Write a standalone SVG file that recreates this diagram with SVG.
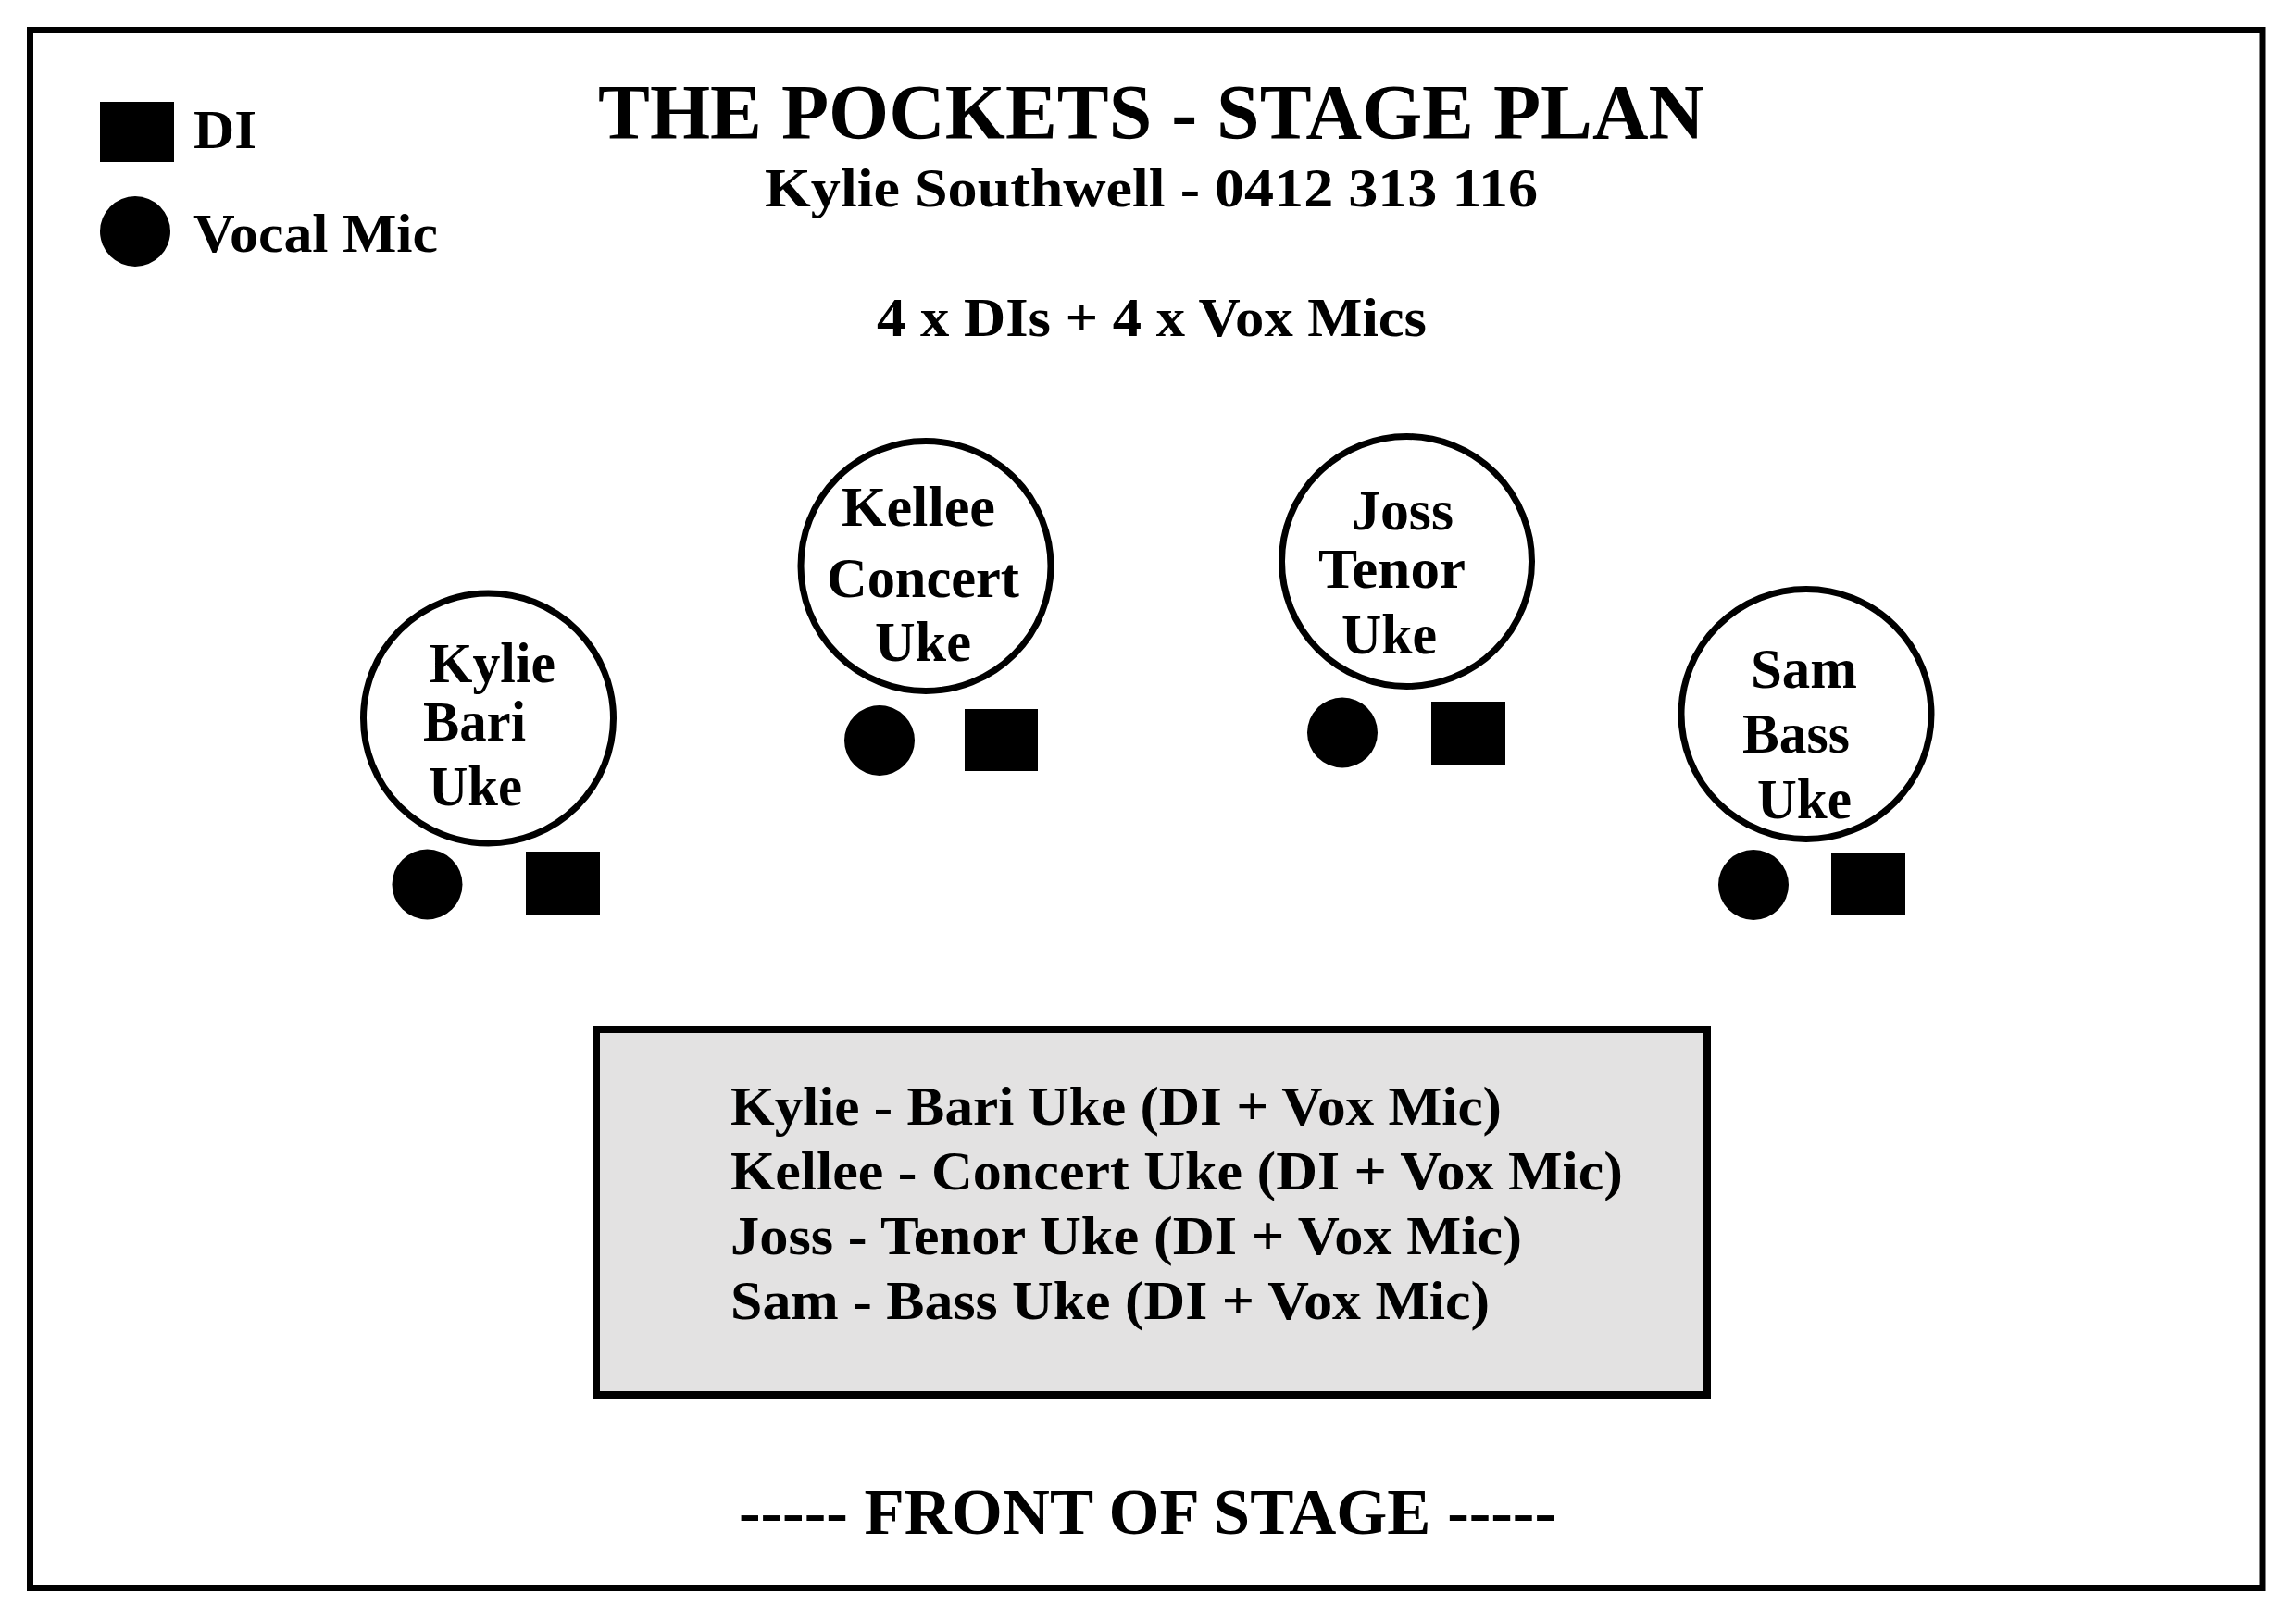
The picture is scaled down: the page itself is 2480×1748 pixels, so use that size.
<svg xmlns="http://www.w3.org/2000/svg" width="2480" height="1748" viewBox="0 0 2480 1748">
<style>
.t{font-family:"Liberation Serif","Times New Roman",serif;font-weight:bold;fill:#000}
.ring{fill:#fff;stroke:#000;stroke-width:7}
.mic{fill:#000}
.di{fill:#000}
</style>
<rect x="0" y="0" width="2480" height="1748" fill="#fff"/>
<rect x="32.5" y="32.5" width="2411.5" height="1683" fill="none" stroke="#000" stroke-width="7"/>

<g id="legend">
<rect class="di" x="108" y="110" width="80" height="65"/>
<text class="t" x="209" y="160" font-size="60" textLength="68" lengthAdjust="spacingAndGlyphs">DI</text>
<ellipse class="mic" cx="146" cy="250" rx="38" ry="38"/>
<text class="t" x="209" y="272" font-size="60" textLength="264" lengthAdjust="spacingAndGlyphs">Vocal Mic</text>
</g>

<g id="title">
<text class="t" x="646" y="150" font-size="85" textLength="1195" lengthAdjust="spacingAndGlyphs">THE POCKETS - STAGE PLAN</text>
<text class="t" x="826" y="223" font-size="60" textLength="835" lengthAdjust="spacingAndGlyphs">Kylie Southwell - 0412 313 116</text>
<text class="t" x="947" y="363" font-size="60" textLength="594" lengthAdjust="spacingAndGlyphs">4 x DIs + 4 x Vox Mics</text>
</g>

<g id="connectors"></g>

<g id="kylie">
<circle class="ring" cx="527.5" cy="776" r="135"/>
<text class="t" x="464" y="737" font-size="62" textLength="136" lengthAdjust="spacingAndGlyphs">Kylie</text>
<text class="t" x="457" y="800" font-size="62" textLength="111" lengthAdjust="spacingAndGlyphs">Bari</text>
<text class="t" x="463" y="870" font-size="62" textLength="101" lengthAdjust="spacingAndGlyphs">Uke</text>
<circle class="mic" cx="461.5" cy="955.5" r="38"/>
<rect class="di" x="568" y="920" width="80" height="68"/>
</g>

<g id="kellee">
<circle class="ring" cx="1000" cy="611.5" r="135"/>
<text class="t" x="909" y="568" font-size="62" textLength="166" lengthAdjust="spacingAndGlyphs">Kellee</text>
<text class="t" x="893" y="645" font-size="62" textLength="208" lengthAdjust="spacingAndGlyphs">Concert</text>
<text class="t" x="945" y="714" font-size="62" textLength="104" lengthAdjust="spacingAndGlyphs">Uke</text>
<circle class="mic" cx="950" cy="800" r="38"/>
<rect class="di" x="1042" y="766" width="79" height="67"/>
</g>

<g id="joss">
<circle class="ring" cx="1519.5" cy="606.5" r="135"/>
<text class="t" x="1460" y="572" font-size="62" textLength="110" lengthAdjust="spacingAndGlyphs">Joss</text>
<text class="t" x="1424" y="635" font-size="62" textLength="159" lengthAdjust="spacingAndGlyphs">Tenor</text>
<text class="t" x="1449" y="706" font-size="62" textLength="103" lengthAdjust="spacingAndGlyphs">Uke</text>
<circle class="mic" cx="1450" cy="791.5" r="38"/>
<rect class="di" x="1546" y="758" width="80" height="68"/>
</g>

<g id="sam">
<circle class="ring" cx="1951" cy="771.5" r="135"/>
<text class="t" x="1891" y="743" font-size="62" textLength="115" lengthAdjust="spacingAndGlyphs">Sam</text>
<text class="t" x="1882" y="813" font-size="62" textLength="116" lengthAdjust="spacingAndGlyphs">Bass</text>
<text class="t" x="1898" y="884" font-size="62" textLength="102" lengthAdjust="spacingAndGlyphs">Uke</text>
<circle class="mic" cx="1894" cy="956" r="38"/>
<rect class="di" x="1978" y="922" width="80" height="67"/>
</g>

<g id="list">
<rect x="644" y="1112" width="1200" height="395" fill="#e3e2e2" stroke="#000" stroke-width="8"/>
<text class="t" x="789" y="1215" font-size="60" textLength="833" lengthAdjust="spacingAndGlyphs">Kylie - Bari Uke (DI + Vox Mic)</text>
<text class="t" x="789" y="1285" font-size="60" textLength="964" lengthAdjust="spacingAndGlyphs">Kellee - Concert Uke (DI + Vox Mic)</text>
<text class="t" x="789" y="1355" font-size="60" textLength="855" lengthAdjust="spacingAndGlyphs">Joss - Tenor Uke (DI + Vox Mic)</text>
<text class="t" x="789" y="1425" font-size="60" textLength="820" lengthAdjust="spacingAndGlyphs">Sam - Bass Uke (DI + Vox Mic)</text>
</g>

<g id="front">
<text class="t" x="798" y="1657" font-size="70" textLength="883" lengthAdjust="spacingAndGlyphs">----- FRONT OF STAGE -----</text>
</g>
</svg>
